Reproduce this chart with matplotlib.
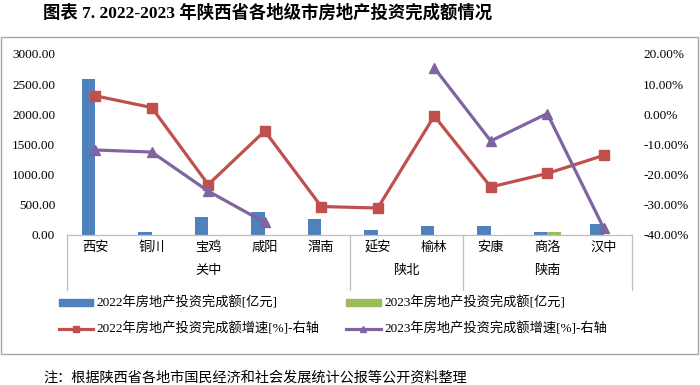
import numpy as np
import matplotlib.pyplot as plt
from matplotlib.patches import Rectangle
from matplotlib.lines import Line2D
from matplotlib.patches import Patch

# data
cities = ['西安', '铜川', '宝鸡', '咸阳', '渭南', '延安', '榆林', '安康', '商洛', '汉中']
regions = ['关中', '陕北', '陕南']
region_bounds = [(0, 4), (5, 6), (7, 9)]   # first and last city index per region

inv_2022 = [2585, 37, 286, 369, 253, 75, 146, 146, 37, 180]        # 亿元
inv_2023 = [np.nan, np.nan, np.nan, np.nan, np.nan, np.nan, np.nan, np.nan, 37, np.nan]
growth_2022 = [6.1, 2.2, -23.4, -5.6, -30.7, -31.2, -0.6, -24.2, -19.7, -13.7]   # %
growth_2023 = [-11.9, -12.6, -25.6, -36.0, np.nan, np.nan, 15.4, -8.9, 0.2, -37.9]

left_ticks = [0, 500, 1000, 1500, 2000, 2500, 3000]
right_ticks = [-40, -30, -20, -10, 0, 10, 20]

blue = '#4F81BD'
green = '#9BBB59'
red = '#C0504D'
purple = '#8064A2'
grey = '#BFBFBF'

plt.rcParams['font.family'] = ['Liberation Serif', 'Noto Sans CJK SC']
plt.rcParams['font.size'] = 9.5

fig = plt.figure(figsize=(7, 3.85), dpi=100)
ax = fig.add_axes([67/700, 1-234.5/385, (632-67)/700, 180.5/385])
ax2 = ax.twinx()

x = np.arange(len(cities))
w = 0.235
ax.bar(x - w/2, inv_2022, width=w, color=blue, zorder=2)
ax.bar(x + w/2, inv_2023, width=w, color=green, zorder=2)
ax.set_ylim(0, 3000)
ax.set_xlim(-0.5, len(cities) - 0.5)
ax.set_yticks(left_ticks)
ax.set_yticklabels([f'{v:.2f}' for v in left_ticks])
ax.set_xticks([])
ax.tick_params(axis='y', length=0, pad=8.5)

ax2.plot(x, growth_2022, color=red, lw=2.3, marker='s', ms=6.5, zorder=3)
ax2.plot(x, growth_2023, color=purple, lw=2.3, marker='^', ms=7, zorder=4)
ax2.set_ylim(-40, 20)
ax2.set_yticks(right_ticks)
ax2.set_yticklabels([f'{v:.2f}%' for v in right_ticks])
ax2.tick_params(axis='y', length=0, pad=8)

for a in (ax, ax2):
    for s in ('left', 'right', 'top', 'bottom'):
        a.spines[s].set_visible(False)

# category axis: baseline, group separators and labels
tr = ax.get_xaxis_transform()
ax.plot([-0.5, len(cities) - 0.5], [0, 0], color=grey, lw=0.9, transform=tr, clip_on=False)
for xs in [-0.5, 4.5, 6.5, len(cities) - 0.5]:
    ax.plot([xs, xs], [0, -0.31], color=grey, lw=0.9, transform=tr, clip_on=False)
for i, c in enumerate(cities):
    ax.text(i, -0.075, c, transform=tr, ha='center', va='center', fontsize=9.5)
for name, (a, b) in zip(regions, region_bounds):
    ax.text((a + b) / 2, -0.20, name, transform=tr, ha='center', va='center', fontsize=9.5)

handles = [Patch(color=blue), Line2D([], [], color=red, lw=2.3, marker='s', ms=4),
           Patch(color=green), Line2D([], [], color=purple, lw=2.3, marker='^', ms=4)]
labels = ['2022年房地产投资完成额[亿元]', '2022年房地产投资完成额增速[%]-右轴',
          '2023年房地产投资完成额[亿元]', '2023年房地产投资完成额增速[%]-右轴']
fig.legend(handles, labels, ncol=2, loc='upper left', bbox_to_anchor=(52/700, 1-290/385),
           frameon=False, handlelength=2.6, handleheight=0.45, handletextpad=0.3,
           columnspacing=2.0, labelspacing=0.95, fontsize=9.5, borderpad=0)

# outer frame
fig.patches.append(Rectangle((1/700, 1-354/385), 697/700, 317/385, transform=fig.transFigure,
                             fill=False, edgecolor='#A6A6A6', lw=1.0))

fig.text(43/700, 1-13/385, '图表 7. 2022-2023 年陕西省各地级市房地产投资完成额情况',
         fontsize=12.5, fontweight='bold', va='center', ha='left',
         family=['Liberation Serif', 'Noto Sans CJK SC'])
fig.text(43/700, 1-378/385, '注：根据陕西省各地市国民经济和社会发展统计公报等公开资料整理',
         fontsize=10.2, va='center', ha='left', family=['Noto Sans CJK SC'])

fig.savefig('out.png', dpi=100)
